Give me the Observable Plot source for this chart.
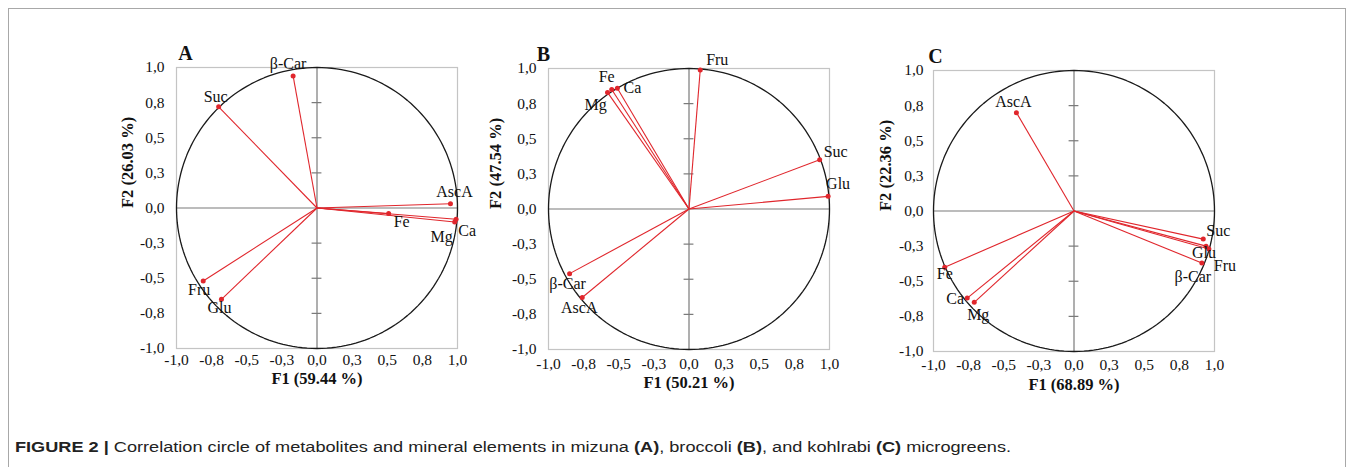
<!DOCTYPE html>
<html>
<head>
<meta charset="utf-8">
<script src="https://cdn.jsdelivr.net/npm/d3@7"></script>
<script src="https://cdn.jsdelivr.net/npm/@observablehq/plot@0.6"></script>
<style>
  html, body { margin: 0; padding: 0; background: #fff; }
  #fig { position: relative; width: 1355px; height: 467px; overflow: hidden; background: #fff; }
  #border { position: absolute; left: 8px; top: 8px; width: 1338px; height: 470px; border: 1px solid #a8a8a8; box-sizing: border-box; }
  .panel { position: absolute; }
  .panel svg { overflow: visible; }
  #caption { position: absolute; left: 15px; top: 439px; font-family: "Liberation Sans", Arial, sans-serif; font-size: 14px; color: #222; white-space: nowrap; transform-origin: 0 0; }
</style>
</head>
<body>
<div id="fig">
  <div id="border"></div>
  <div id="pA" class="panel"></div>
  <div id="pB" class="panel"></div>
  <div id="pC" class="panel"></div>
  <div id="caption"><b>FIGURE 2 |</b> Correlation circle of metabolites and mineral elements in mizuna <b>(A)</b>, broccoli <b>(B)</b>, and kohlrabi <b>(C)</b> microgreens.</div>
</div>
<script>
// ---- data ----
const tickValues = [-1, -0.75, -0.5, -0.25, 0, 0.25, 0.5, 0.75, 1];
const tickLabels = ["-1,0", "-0,8", "-0,5", "-0,3", "0,0", "0,3", "0,5", "0,8", "1,0"];

const varsA = ["β-Car", "Suc", "AscA", "Fe", "Mg", "Ca", "Fru", "Glu"];
const f1A = [-0.17, -0.70, 0.95, 0.51, 0.98, 0.99, -0.81, -0.68];
const f2A = [0.94, 0.72, 0.03, -0.04, -0.10, -0.08, -0.52, -0.65];

const varsB = ["Fru", "Fe", "Ca", "Mg", "Suc", "Glu", "β-Car", "AscA"];
const f1B = [0.08, -0.55, -0.51, -0.58, 0.93, 0.99, -0.85, -0.76];
const f2B = [0.99, 0.85, 0.86, 0.83, 0.35, 0.09, -0.46, -0.63];

const varsC = ["AscA", "Fe", "Ca", "Mg", "Suc", "Glu", "Fru", "β-Car"];
const f1C = [-0.41, -0.92, -0.76, -0.71, 0.92, 0.94, 0.96, 0.91];
const f2C = [0.70, -0.40, -0.62, -0.65, -0.20, -0.25, -0.27, -0.37];

const panelLetters = ["A", "B", "C"];
const xTitles = ["F1 (59.44 %)", "F1 (50.21 %)", "F1 (68.89 %)"];
const yTitles = ["F2 (26.03 %)", "F2 (47.54 %)", "F2 (22.36 %)"];

// ---- layout (pixel placement, kept apart from data) ----
const layout = [
  { id: "pA", frameLeft: 176, frameTop: 67, letterDx: 9, yTitleDx: -49, tickPad: 12, xPad: 5, titleDy: 35,
    offsets: { "β-Car": [-5, -12], "Suc": [-3, -10], "AscA": [4, -12], "Fe": [13, 8], "Mg": [-13, 15], "Ca": [11, 12], "Fru": [-4, 9], "Glu": [-2, 9] } },
  { id: "pB", frameLeft: 548, frameTop: 68, letterDx: -5, yTitleDx: -53, tickPad: 12, xPad: 8, titleDy: 38,
    offsets: { "Fru": [17, -10], "Fe": [-5, -13], "Ca": [15, 0], "Mg": [-12, 12], "Suc": [16, -8], "Glu": [10, -12], "β-Car": [-2, 10], "AscA": [-3, 10] } },
  { id: "pC", frameLeft: 933, frameTop: 70, letterDx: 2, yTitleDx: -48, tickPad: 10, xPad: 7, titleDy: 38,
    offsets: { "AscA": [-3, -11], "Fe": [0, 7], "Ca": [-12, 1], "Mg": [4, 13], "Suc": [15, -8], "Glu": [-2, 7], "Fru": [16, 17], "β-Car": [-9, 14] } }
];
const FRAME = 281, ML = 70, MT = 45, MR = 40, MB = 55;
const RED = "#e0262c";
const SERIF = "'Liberation Serif', 'Times New Roman', serif";

const panels = [
  { vars: varsA, f1: f1A, f2: f2A },
  { vars: varsB, f1: f1B, f2: f2B },
  { vars: varsC, f1: f1C, f2: f2C }
];

// unit circle geometry
const circle = d3.range(0, 361, 2).map(a => ({ x: Math.cos(a * Math.PI / 180), y: Math.sin(a * Math.PI / 180) }));
const innerTicks = tickValues.filter(v => v !== 0 && Math.abs(v) !== 1);
const fmt = v => tickLabels[tickValues.indexOf(v)];

panels.forEach((p, i) => {
  const L = layout[i];
  const rows = p.vars.map((v, k) => ({ name: v, x: p.f1[k], y: p.f2[k] }));
  const labelMarks = rows.map(r => Plot.text([r], {
    x: "x", y: "y", text: "name", dx: L.offsets[r.name][0], dy: L.offsets[r.name][1],
    fontSize: 16, fill: "#111"
  }));
  const chart = Plot.plot({
    width: ML + FRAME + MR,
    height: MT + FRAME + MB,
    marginLeft: ML, marginTop: MT, marginRight: MR, marginBottom: MB,
    style: { fontFamily: SERIF, fontSize: "15.5px", color: "#111", background: "transparent", overflow: "visible" },
    x: { domain: [-1, 1], ticks: tickValues, tickFormat: fmt, tickSize: 0, tickPadding: L.xPad, label: null },
    y: { domain: [-1, 1], ticks: tickValues, tickFormat: fmt, tickSize: 0, tickPadding: L.tickPad, label: null },
    marks: [
      Plot.frame({ stroke: "#c4c4c4", strokeWidth: 1.2 }),
      Plot.ruleX([0], { stroke: "#7a7a7a", strokeWidth: 1.2 }),
      Plot.ruleY([0], { stroke: "#7a7a7a", strokeWidth: 1.2 }),
      Plot.ruleY(innerTicks, { y: d => d, x1: -0.035, x2: 0.035, stroke: "#7a7a7a", strokeWidth: 1.2 }),
      Plot.line(circle, { x: "x", y: "y", stroke: "#1a1a1a", strokeWidth: 1.3 }),
      Plot.link(rows, { x1: 0, y1: 0, x2: "x", y2: "y", stroke: RED, strokeWidth: 1.1 }),
      Plot.dot(rows, { x: "x", y: "y", r: 2.5, fill: RED, stroke: "none" }),
      ...labelMarks,
      Plot.text([panelLetters[i]], { frameAnchor: "top-left", dx: L.letterDx, dy: -22, textAnchor: "middle", fontWeight: "bold", fontSize: 20, fill: "#111" }),
      Plot.text([xTitles[i]], { frameAnchor: "bottom", dy: L.titleDy, fontWeight: "bold", fontSize: 16.5, fill: "#111" }),
      Plot.text([yTitles[i]], { frameAnchor: "left", dx: L.yTitleDx, rotate: -90, fontWeight: "bold", fontSize: 16.5, fill: "#111" })
    ]
  });
  const host = document.getElementById(L.id);
  host.style.left = (L.frameLeft - ML) + "px";
  host.style.top = (L.frameTop - MT) + "px";
  host.appendChild(chart);
});

// stretch caption to the reference width
const cap = document.getElementById("caption");
const w = cap.getBoundingClientRect().width;
cap.style.transform = `scaleX(${996 / w})`;
</script>
</body>
</html>
